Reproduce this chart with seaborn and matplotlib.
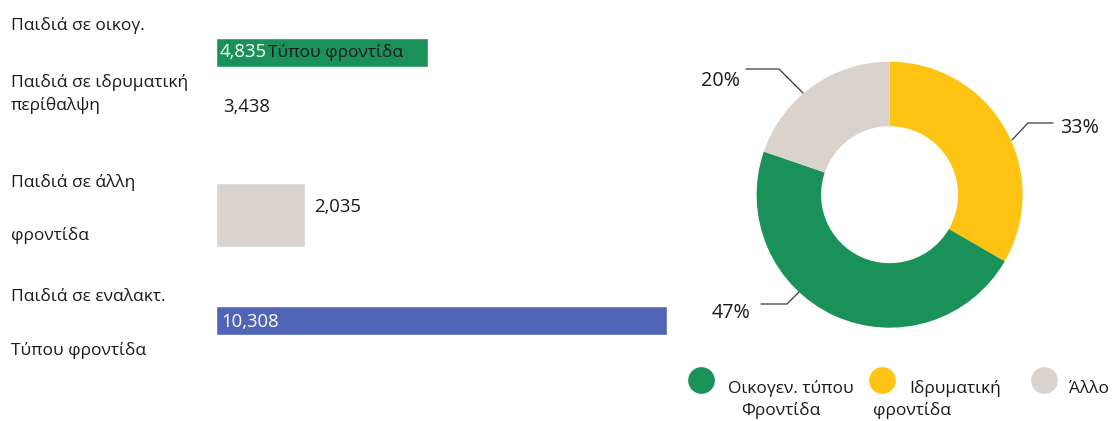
import matplotlib
matplotlib.use("Agg")
import matplotlib.pyplot as plt
import seaborn as sns
import pandas as pd

# ---------------------------------------------------------------- data
care_types = ["Παιδιά σε οικογ.", "Παιδιά σε ιδρυματική", "Παιδιά σε άλλη", "Παιδιά σε εναλακτ."]
care_types_line2 = ["Τύπου φροντίδα", "περίθαλψη", "φροντίδα", "Τύπου φροντίδα"]
children = [4835, 3438, 2035, 10308]
bar_colors = ["#1B915A", "#FFFFFF", "#DAD3CD", "#5065B7"]

share_labels = ["Οικογεν. τύπου", "Ιδρυματική", "Άλλο"]
share_labels_line2 = ["Φροντίδα", "φροντίδα", ""]
share_values = [4835, 3438, 2035]
share_colors = ["#1B915A", "#FFC314", "#DAD3CD"]

# ---------------------------------------------------------------- style
sns.set_theme(style="white")
plt.rcParams["font.family"] = ["Open Sans", "DejaVu Sans"]
TEXT = "#1a1a1a"
CAPTION_SIZE = 12.5
VALUE_SIZE = 13.3
PCT_SIZE = 14.2
LEGEND_SIZE = 12.5

W, H = 1116, 421
fig = plt.figure(figsize=(W / 100, H / 100), dpi=100)
fig.patch.set_facecolor("white")

# ---------------------------------------------------------------- bars
row_slots = [0, 1, 3, 5]          # vertical slot of each row (row spacing)
px_per_slot = 53.62
top_px = 52.1                     # pixel centre of the first row
ax = fig.add_axes([216 / W, 0, 451 / W, 1])
df = pd.DataFrame({"children": children, "slot": row_slots, "type": care_types})
sns.barplot(data=df, x="children", y="slot", hue="type",
            palette=dict(zip(care_types, bar_colors)), saturation=1,
            orient="h", native_scale=True, dodge=False, width=0.54,
            legend=False, ax=ax)
ax.set_xlim(0, max(children))
ax.set_ylim((H - top_px) / px_per_slot, -top_px / px_per_slot)
ax.axis("off")

# the "other care" row is drawn as a taller block
for p in ax.patches:
    centre = p.get_y() + p.get_height() / 2
    if abs(centre - row_slots[2]) < 0.1:
        p.set_height(1.18)
        p.set_y(row_slots[2] + 0.04 - 0.59)

# value labels
label_style = [  # (colour, inside/outside, dx px, dy px)
    ("white", "in", 4, -5),
    (TEXT, "in", 7, -6),
    (TEXT, "out", 9, 1),
    ("white", "in", 5, -6.5),
]
for v, slot, (col, where, dx, dy) in zip(children, row_slots, label_style):
    x = 0 if where == "in" else v
    ax.annotate(f"{v:,}", xy=(x, slot), xytext=(dx, dy), textcoords="offset pixels",
                ha="left", va="baseline", color=col, fontsize=VALUE_SIZE)

# ---------------------------------------------------------------- donut
cx, cy, R = 889.6, 194.7, 133.0
ax_p = fig.add_axes([(cx - 1.1 * R) / W, (H - cy - 1.1 * R) / H, 2.2 * R / W, 2.2 * R / H])
order = [1, 0, 2]  # clockwise from twelve o'clock: institutional, family, other
ax_p.pie([share_values[i] for i in order],
         colors=[share_colors[i] for i in order],
         startangle=90, counterclock=False,
         wedgeprops=dict(width=0.485, linewidth=0))
ax_p.set_xlim(-1.1, 1.1)
ax_p.set_ylim(-1.1, 1.1)

# ---------------------------------------------------------------- overlay (pixel coordinates)
ov = fig.add_axes([0, 0, 1, 1], zorder=5)
ov.set_xlim(0, W)
ov.set_ylim(H, 0)
ov.axis("off")
ov.patch.set_alpha(0)

# row captions
first_base = [30, 87.3, 186.7, 300.7]
second_pos = [(268, 57), (11, 110), (11, 240), (11, 355)]
for name, name2, yb, (x2, y2) in zip(care_types, care_types_line2, first_base, second_pos):
    ov.text(11, yb, name, ha="left", va="baseline", fontsize=CAPTION_SIZE, color=TEXT)
    ov.text(x2, y2, name2, ha="left", va="baseline", fontsize=CAPTION_SIZE, color=TEXT)

# percentage call-outs with leader lines
total = sum(share_values)
callouts = [  # leader polyline, text anchor, alignment
    ([(799, 292), (787, 304), (761, 304)], (751, 317.7), "right"),
    ([(1012, 140), (1028, 123), (1053, 123)], (1060, 132.7), "left"),
    ([(803, 93), (779, 69), (746, 69)], (740, 85.7), "right"),
]
for v, (pts, (tx, ty), ha) in zip(share_values, callouts):
    xs, ys = zip(*pts)
    ov.plot(xs, ys, color="#3a3a3a", lw=0.9)
    ov.text(tx, ty, f"{round(100 * v / total)}%", ha=ha, va="baseline",
            fontsize=PCT_SIZE, color=TEXT)

# legend
legend_marks = [(700.7, 380), (881.7, 380), (1044.3, 380)]
legend_text = [((728, 393.3), (741, 415)), ((909, 393.3), (873, 415)), ((1069, 393.3), (1069, 415))]
for (mx, my), col, l1, l2, ((x1, y1), (x2, y2)) in zip(legend_marks, share_colors, share_labels,
                                                       share_labels_line2, legend_text):
    ov.scatter([mx], [my], s=370, color=col, linewidths=0)
    ov.text(x1, y1, l1, ha="left", va="baseline", fontsize=LEGEND_SIZE, color=TEXT)
    if l2:
        ov.text(x2, y2, l2, ha="left", va="baseline", fontsize=LEGEND_SIZE, color=TEXT)

fig.savefig("out.png", dpi=100, facecolor="white")
